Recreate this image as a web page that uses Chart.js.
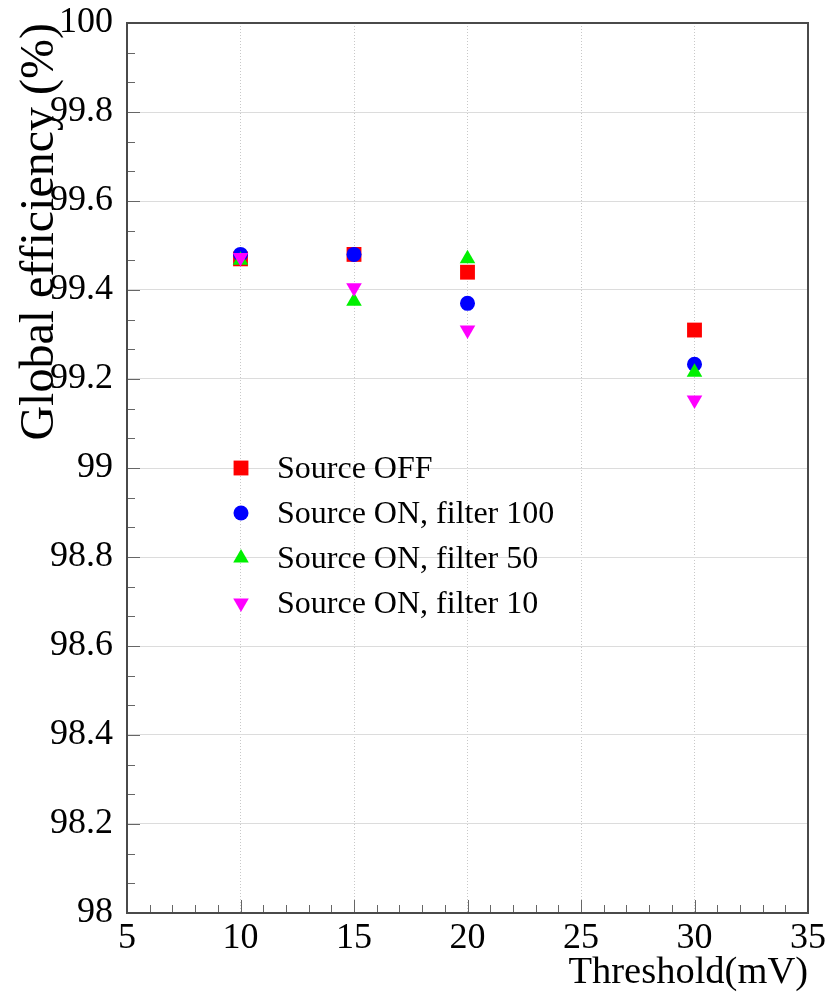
<!DOCTYPE html>
<html>
<head>
<meta charset="utf-8">
<script src="https://cdn.jsdelivr.net/npm/chart.js@4/dist/chart.umd.min.js"></script>
<style>
  html, body { margin: 0; padding: 0; background: #ffffff; }
  #wrap { width: 836px; height: 996px; position: relative; }
</style>
</head>
<body>
<div id="wrap"><canvas id="c" width="836" height="996"></canvas></div>
<script>
// ---- data ----
const thresholds = [10, 15, 20, 30];
const sourceOff = [99.47, 99.48, 99.44, 99.31];
const filter100 = [99.48, 99.48, 99.37, 99.233];
const filter50 = [99.467, 99.375, 99.47, 99.215];
const filter10 = [99.473, 99.405, 99.31, 99.153];
const seriesLabels = ['Source OFF', 'Source ON, filter 100', 'Source ON, filter 50', 'Source ON, filter 10'];
const xTickValues = [5, 10, 15, 20, 25, 30, 35];
const yTickValues = [98, 98.2, 98.4, 98.6, 98.8, 99, 99.2, 99.4, 99.6, 99.8, 100];
const yTickLabels = ['98', '98.2', '98.4', '98.6', '98.8', '99', '99.2', '99.4', '99.6', '99.8', '100'];
const xTitle = 'Threshold(mV)';
const yTitle = 'Global efficiency (%)';

const serif = "'Liberation Serif', 'Times New Roman', serif";

function pts(ys) { return thresholds.map((x, i) => ({ x: x, y: ys[i] })); }

const styles = [
  { color: '#ff0000', pointStyle: 'rect', radius: 10.5, rotation: 0 },
  { color: '#0000ff', pointStyle: 'circle', radius: 7.5, rotation: 0 },
  { color: '#00f000', pointStyle: 'triangle', radius: 9, rotation: 0 },
  { color: '#ff00ff', pointStyle: 'triangle', radius: 9, rotation: 180 }
];
const values = [sourceOff, filter100, filter50, filter10];

const datasets = values.map((v, i) => ({
  label: seriesLabels[i],
  data: pts(v),
  showLine: false,
  pointStyle: styles[i].pointStyle,
  pointRadius: styles[i].radius,
  pointHoverRadius: styles[i].radius,
  pointRotation: styles[i].rotation,
  backgroundColor: styles[i].color,
  borderColor: styles[i].color,
  pointBorderWidth: 0,
  order: 4 - i
}));

// frame + minor ticks + in-plot legend
const decor = {
  id: 'decor',
  afterDatasetsDraw(chart) {
    const ctx = chart.ctx;
    const a = chart.chartArea;
    const xs = chart.scales.x, ys = chart.scales.y;
    ctx.save();
    ctx.strokeStyle = '#666';
    ctx.lineWidth = 1;
    for (let v = xs.min; v <= xs.max + 1e-9; v += 1) {
      const px = Math.round(xs.getPixelForValue(v)) + 0.5;
      const major = Math.abs(v % 5) < 1e-9;
      const len = major ? 13 : 8;
      ctx.beginPath(); ctx.moveTo(px, a.bottom); ctx.lineTo(px, a.bottom - len); ctx.stroke();
    }
    const step = 0.2 / 3;
    for (let k = 0; k <= 30; k++) {
      const v = ys.min + k * step;
      const py = Math.round(ys.getPixelForValue(v)) + 0.5;
      const len = (k % 3 === 0) ? 13 : 8;
      ctx.beginPath(); ctx.moveTo(a.left, py); ctx.lineTo(a.left + len, py); ctx.stroke();
    }
    ctx.strokeStyle = '#4a4a4a';
    ctx.lineWidth = 2;
    ctx.strokeRect(a.left, a.top, a.right - a.left, a.bottom - a.top);
    const lx = a.left + 114, ly0 = a.top + 445, dy = 45;
    ctx.font = '32px ' + serif;
    ctx.textBaseline = 'middle';
    ctx.textAlign = 'left';
    chart.data.datasets.forEach((ds, i) => {
      const y = ly0 + i * dy;
      ctx.fillStyle = ds.backgroundColor;
      Chart.helpers.drawPoint(ctx, { pointStyle: ds.pointStyle, rotation: ds.pointRotation, radius: ds.pointRadius, borderWidth: 0 }, lx, y);
      ctx.fillStyle = '#000';
      ctx.fillText(ds.label, lx + 36, y + 2);
    });
    ctx.restore();
  }
};

new Chart(document.getElementById('c'), {
  type: 'scatter',
  data: { datasets: datasets },
  options: {
    responsive: false,
    animation: false,
    layout: { padding: { left: 0, top: 23, right: 28, bottom: 0 } },
    plugins: { legend: { display: false }, tooltip: { enabled: false } },
    scales: {
      x: {
        type: 'linear', min: 5, max: 35,
        afterBuildTicks(s) { s.ticks = xTickValues.map(v => ({ value: v })); },
        afterFit(s) { s.height = 83; s.paddingLeft = 0; s.paddingRight = 0; },
        grid: { color: '#c8c8c8', lineWidth: 1, drawTicks: false },
        border: { display: false, dash: [1, 2] },
        ticks: {
          font: { family: serif, size: 36 }, color: '#000', padding: 4,
          maxRotation: 0, autoSkip: false,
          callback: (v) => String(v)
        },
        title: {
          display: true, text: xTitle, align: 'end',
          font: { family: serif, size: 38.5 }, color: '#000',
          padding: { top: 0, bottom: 0 }
        }
      },
      y: {
        type: 'linear', min: 98, max: 100,
        afterBuildTicks(s) { s.ticks = yTickValues.map(v => ({ value: v })); },
        afterFit(s) { s.width = 127; s.paddingTop = 0; s.paddingBottom = 0; },
        grid: { color: '#dcdcdc', lineWidth: 1, drawTicks: false },
        border: { display: false },
        ticks: {
          font: { family: serif, size: 36 }, color: '#000', padding: 14,
          autoSkip: false,
          callback: (v, i) => yTickLabels[i]
        },
        title: {
          display: true, text: yTitle, align: 'end',
          font: { family: serif, size: 48 }, color: '#000',
          padding: { top: 12, bottom: 0 }
        }
      }
    }
  },
  plugins: [decor]
});
</script>
</body>
</html>
